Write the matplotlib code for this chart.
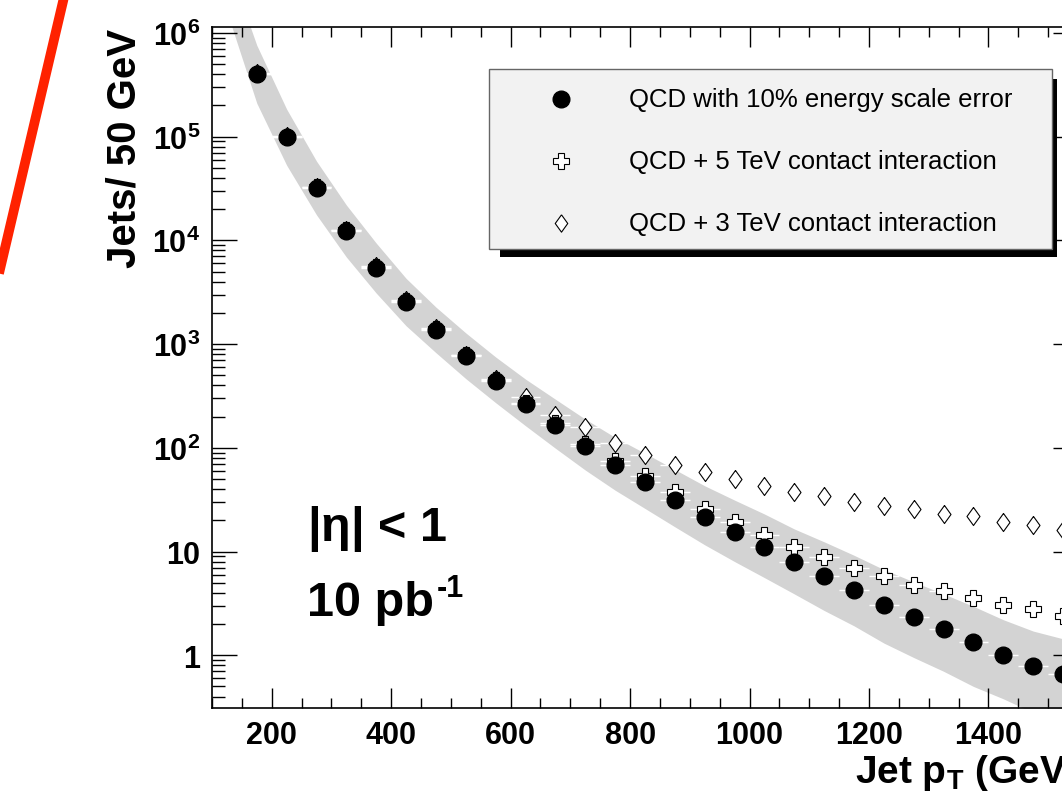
import matplotlib
matplotlib.use('Agg')
import matplotlib.pyplot as plt
from matplotlib.patches import Rectangle
from matplotlib.lines import Line2D
from matplotlib.ticker import MultipleLocator, LogLocator, NullFormatter

plt.rcParams['font.family'] = ['Liberation Sans', 'DejaVu Sans']
plt.rcParams['font.weight'] = 'bold'
plt.rcParams['mathtext.fontset'] = 'custom'
plt.rcParams['mathtext.rm'] = 'Liberation Sans'
plt.rcParams['mathtext.it'] = 'Liberation Sans:italic'
plt.rcParams['mathtext.bf'] = 'Liberation Sans:bold'

# bin centres (GeV)
pt = [175, 225, 275, 325, 375, 425, 475, 525, 575, 625, 675, 725, 775, 825,
      875, 925, 975, 1025, 1075, 1125, 1175, 1225, 1275, 1325, 1375, 1425, 1475, 1525]
# QCD with 10% energy scale error (filled dots)
qcd = [4.0e5, 9.9e4, 3.2e4, 1.23e4, 5.4e3, 2.55e3, 1.37e3, 770, 442, 264, 165, 104, 68, 46.5,
       31.5, 21.6, 15.3, 11.0, 7.9, 5.8, 4.3, 3.07, 2.34, 1.79, 1.35, 1.01, 0.78, 0.66]
# QCD + 5 TeV contact interaction (open crosses)
ci5 = [4.05e5, 1.0e5, 3.25e4, 1.25e4, 5.5e3, 2.6e3, 1.4e3, 790, 455, 272, 172, 109, 75, 53.8,
       37.2, 25.7, 19.4, 14.4, 11.0, 8.8, 6.9, 5.8, 4.75, 4.16, 3.54, 3.05, 2.79, 2.41]
# QCD + 3 TeV contact interaction (open diamonds)
ci3 = [4.1e5, 1.01e5, 3.3e4, 1.27e4, 5.6e3, 2.65e3, 1.42e3, 790, 465, 310, 206, 157, 111, 86,
       68.6, 58.7, 49.9, 43, 37.7, 34.5, 30.2, 27.6, 25.7, 23.0, 21.8, 19.4, 18.0, 16.2]

# grey energy scale band
band_pt = [125] + pt
band_hi = [5e6, 7.6e5, 1.84e5, 5.8e4, 2.19e4, 9.4e3, 4.3e3, 2.27e3, 1.28e3, 750, 459, 294, 189, 126,
           88.6, 61.7, 43, 31.3, 23, 16.5, 12.4, 9.2, 6.7, 5.1, 3.9, 2.96, 2.2, 1.71, 1.44]
band_lo = [1.6e6, 2.1e5, 5.3e4, 1.76e4, 6.9e3, 3.1e3, 1.5e3, 825, 464, 272, 163, 99, 61, 39,
           26, 17.3, 11.6, 8.0, 5.6, 3.9, 2.7, 1.92, 1.31, 0.95, 0.70, 0.50, 0.38, 0.28, 0.22]

labels = ["QCD with 10% energy scale error",
          "QCD + 5 TeV contact interaction",
          "QCD + 3 TeV contact interaction"]

W, H = 1062, 803
fig = plt.figure(figsize=(W / 100, H / 100), dpi=100)


def px(x, y):
    return x / W, 1 - y / H


# axes box in pixels (right side runs past the picture edge)
L, R, T, B = 212, 1078, 28, 709
ax = fig.add_axes([L / W, 1 - B / H, (R - L) / W, (B - T) / H])
ax.set_yscale('log')
ax.set_xlim(100, 1550)
ax.set_ylim(0.31, 1.14e6)

diamond = [(0, 1), (0.72, 0), (0, -1), (-0.72, 0), (0, 1)]

ax.fill_between(band_pt, band_lo, band_hi, color='#d3d3d3', lw=0, zorder=1)
for ys in (ci3, ci5, qcd):
    ax.errorbar(pt, ys, xerr=25, fmt='none', ecolor='white', elinewidth=1, zorder=2)
ax.plot(pt, ci3, ls='none', marker=diamond, ms=13, mfc='white', mec='black', mew=0.8, zorder=3)
ax.plot(pt, ci5, ls='none', marker='P', ms=12, mfc='white', mec='black', mew=0.8, zorder=4)
ax.plot(pt, qcd, ls='none', marker='o', ms=12, color='black', zorder=5)

ax.xaxis.set_major_locator(MultipleLocator(200))
ax.xaxis.set_minor_locator(MultipleLocator(50))
ax.set_yticks([1, 10, 1e2, 1e3, 1e4, 1e5, 1e6],
              labels=['1', '10', r'$\mathbf{10^{2}}$', r'$\mathbf{10^{3}}$', r'$\mathbf{10^{4}}$',
                      r'$\mathbf{10^{5}}$', r'$\mathbf{10^{6}}$'])
ax.yaxis.set_minor_locator(LogLocator(base=10, subs=range(2, 10), numticks=20))
ax.yaxis.set_minor_formatter(NullFormatter())

ax.tick_params(which='both', direction='in', top=True, right=True, width=1)
ax.tick_params(axis='x', which='major', length=14.4, labelsize=22, pad=8.5)
ax.tick_params(axis='x', which='minor', length=7.2)
ax.tick_params(axis='y', which='major', length=18, labelsize=22, pad=8.5)
ax.tick_params(axis='y', which='minor', length=9.4)
for s in ax.spines.values():
    s.set_linewidth(1.2)

fig.text(*px(125, 29), 'Jets/ 50 GeV', rotation=90, ha='center', va='top', fontsize=29)
fig.text(*px(1078, 783), r'Jet p$_{\mathbf{T}}$ (GeV)', ha='right', va='baseline', fontsize=28)
fig.text(*px(307, 541), r'$|\mathrm{\eta}|$ < 1', va='baseline', fontsize=35)
fig.text(*px(307, 616), '10 pb', va='baseline', fontsize=35)
fig.text(*px(437, 597), '-1', va='baseline', fontsize=22)

# legend box with shadow
fig.add_artist(Rectangle(px(500, 258), (1057 - 500) / W, (258 - 80) / H, facecolor='black',
                         edgecolor='none', transform=fig.transFigure, zorder=5))
fig.add_artist(Rectangle(px(489, 250), (1052 - 489) / W, (250 - 70) / H, facecolor='#f2f2f2',
                         edgecolor='#666666', lw=1, transform=fig.transFigure, zorder=6))
rows = [100, 162, 224]
styles = [dict(marker='o', ms=12, color='black'),
          dict(marker='P', ms=11.5, mfc='white', mec='black', mew=0.8),
          dict(marker=diamond, ms=12.5, mfc='white', mec='black', mew=0.8)]
for ry, st, lab in zip(rows, styles, labels):
    mx, my = px(561, ry)
    fig.add_artist(Line2D([mx], [my], ls='none', transform=fig.transFigure, zorder=7, **st))
    fig.text(*px(629, ry), lab, va='center', fontsize=18.5, fontweight='normal', zorder=7)

# red pen stroke on the left
p0, p1 = px(65, -6), px(-3, 283)
fig.add_artist(Line2D([p0[0], p1[0]], [p0[1], p1[1]], color='#ff2200', lw=7,
                      solid_capstyle='butt', transform=fig.transFigure))

fig.savefig('out.png', dpi=100)
